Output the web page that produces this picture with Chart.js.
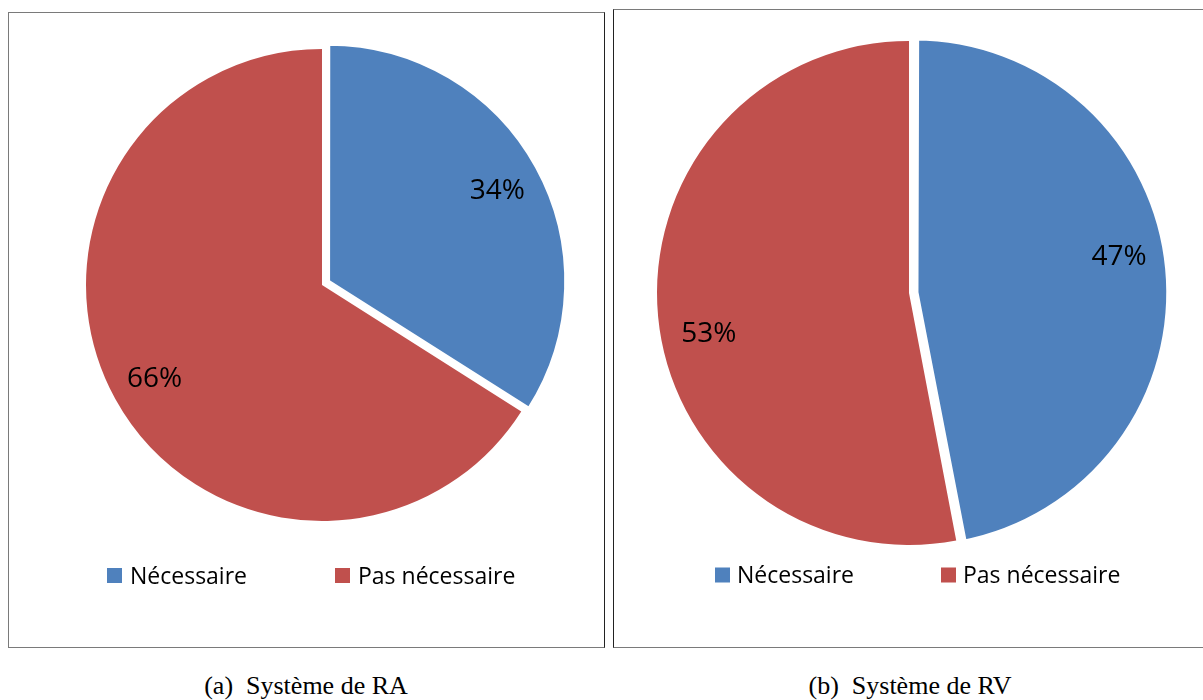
<!DOCTYPE html>
<html>
<head>
<meta charset="utf-8">
<script src="https://cdn.jsdelivr.net/npm/chart.js@4"></script>
<style>
html, body { margin:0; padding:0; background:#fff; width:1203px; height:700px; overflow:hidden; position:relative; }
.box { position:absolute; box-sizing:border-box; border:1px solid #7a7a7a; background:#fff; }
#boxA { left:8px; top:12px; width:597px; height:636px; border-right-color:#222; }
#boxB { left:613px; top:9px; width:592px; height:639px; border-left-color:#222; }
.box canvas { position:absolute; left:0; top:0; }
.cap { position:absolute; top:673px; font-family:"Liberation Serif", "Times New Roman", serif; font-size:26px; line-height:26px; white-space:pre; color:#000; transform:translateX(-50%); }
</style>
</head>
<body>
<div class="box" id="boxA"><canvas id="chartA" width="595" height="634" style="width:595px;height:634px"></canvas></div>
<div class="box" id="boxB"><canvas id="chartB" width="589" height="637" style="width:589px;height:637px"></canvas></div>
<div class="cap" id="capA" style="left:306px"></div>
<div class="cap" id="capB" style="left:910px"></div>
<script>
// ---- data ----
const categories = ['Nécessaire', 'Pas nécessaire'];
const colors = ['#4F81BD', '#C0504D'];
const valuesRA = [34, 66];
const valuesRV = [47, 53];
const captionRA = '(a)  Système de RA';
const captionRV = '(b)  Système de RV';

document.getElementById('capA').textContent = captionRA;
document.getElementById('capB').textContent = captionRV;

// percent labels drawn from the arc geometry
const pctPlugin = {
  id: 'pctLabels',
  afterDatasetsDraw(chart, args, o) {
    const ctx = chart.ctx;
    const ds = chart.data.datasets[0];
    const total = ds.data.reduce((a, b) => a + b, 0);
    chart.getDatasetMeta(0).data.forEach((arc, i) => {
      const p = arc.getProps(['x', 'y', 'startAngle', 'endAngle', 'outerRadius'], true);
      const off = (ds.offset[i] || 0) / 4 + (ds.borderWidth[i] || 0) / 2;
      const mid = (p.startAngle + p.endAngle) / 2;
      const a = p.startAngle + (p.endAngle - p.startAngle) * o.angleFrac;
      const ox = p.x + Math.cos(mid) * off;
      const oy = p.y + Math.sin(mid) * off;
      const r = p.outerRadius * o.radial;
      const tx = ox + Math.cos(a) * r;
      const ty = oy + Math.sin(a) * r;
      ctx.save();
      ctx.font = o.size + 'px "Open Sans"';
      ctx.fillStyle = '#000';
      ctx.textAlign = 'center';
      ctx.textBaseline = 'alphabetic';
      ctx.fillText(Math.round(ds.data[i] / total * 100) + '%', tx, ty + o.size * 0.357);
      ctx.restore();
    });
  }
};

// legend drawn from chart labels/colours
const legendPlugin = {
  id: 'manualLegend',
  afterDraw(chart, args, o) {
    const ctx = chart.ctx;
    const ds = chart.data.datasets[0];
    ctx.save();
    chart.data.labels.forEach((lab, i) => {
      ctx.fillStyle = ds.backgroundColor[i];
      ctx.fillRect(o.boxX[i], o.y - o.box / 2, o.box, o.box);
      ctx.fillStyle = '#000';
      ctx.font = o.size + 'px "Open Sans"';
      ctx.textAlign = 'left';
      ctx.textBaseline = 'alphabetic';
      ctx.fillText(lab, o.textX[i], o.y + o.size * 0.357);
    });
    ctx.restore();
  }
};

function makePie(id, values, cfg) {
  return new Chart(document.getElementById(id), {
    type: 'pie',
    data: {
      labels: categories,
      datasets: [{
        data: values,
        backgroundColor: colors,
        borderColor: '#ffffff',
        borderWidth: cfg.border,
        borderJoinStyle: 'miter',
        offset: cfg.offset,
        clip: false
      }]
    },
    options: {
      responsive: false,
      animation: false,
      radius: cfg.radius,
      layout: { padding: cfg.padding },
      plugins: {
        legend: { display: false },
        tooltip: { enabled: false },
        pctLabels: cfg.labels,
        manualLegend: cfg.legend
      }
    },
    plugins: [pctPlugin, legendPlugin]
  });
}

makePie('chartA', valuesRA, {
  offset: [30, 0],
  border: [3, 0],
  radius: 236,
  padding: { left: 31, right: 0, top: 0, bottom: 90 },
  labels: { angleFrac: 0.5, radial: 0.81, size: 28 },
  legend: { y: 562.5, box: 15, boxX: [98, 326], textX: [121, 349], size: 23 }
});

makePie('chartB', valuesRV, {
  offset: [21, 0],
  border: [8.5, 0],
  radius: 252,
  padding: { left: 1, right: 0, top: 0, bottom: 71 },
  labels: { angleFrac: 0.47, radial: 0.81, size: 28 },
  legend: { y: 565, box: 15, boxX: [101, 327], textX: [123, 349], size: 23 }
});
</script>
</body>
</html>
